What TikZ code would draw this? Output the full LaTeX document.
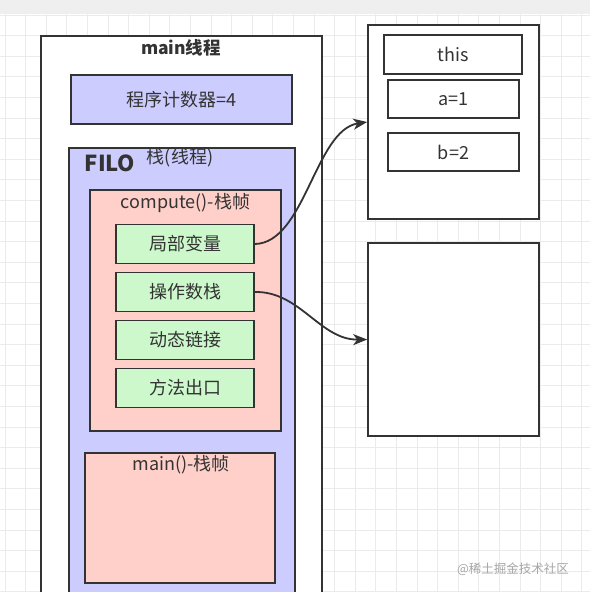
\documentclass[tikz,border=0pt]{standalone}
\usepackage{fontspec}
\setmainfont{Noto Sans CJK SC}
\usetikzlibrary{arrows.meta}
\definecolor{edge}{HTML}{333333}
\definecolor{lav}{HTML}{CCCCFF}
\definecolor{framefill}{HTML}{FFD0CA}
\definecolor{slot}{HTML}{CCF8CC}
\definecolor{gridline}{HTML}{EBEBEB}
\definecolor{band}{HTML}{EFEFEF}

\begin{document}
\begin{tikzpicture}[x=1pt,y=-1pt,line width=1.6pt,
	box/.style={draw=edge,text=edge,inner sep=0pt,font=\fontsize{18}{21}\selectfont},
	txt/.style={text=edge,inner sep=0pt,font=\fontsize{18}{21}\selectfont},
	link/.style={draw=edge,line width=1.8pt,-{Stealth[length=14pt,width=11pt,inset=4pt]}}]
\clip (0,0) rectangle (590,592);

%grid
\fill[white] (0,0) rectangle (590,592);
\foreach \i in {0,...,28}{
	\draw[gridline,line width=0.8pt] ({5+20.6*\i},14)--({5+20.6*\i},592);
	\draw[gridline,line width=0.8pt] (0,{15+20.6*\i})--(590,{15+20.6*\i});
}
\fill[band] (0,0) rectangle (590,14);

%main thread
\node[box,fill=white,anchor=north west,minimum width=281pt,minimum height=600pt] (mainthread) at (40,35) {};
\node[txt,font=\fontsize{17.5}{20}\selectfont\bfseries] (mainlabel) at (181,48) {main线程};

\node[box,fill=lav,minimum width=221pt,minimum height=49pt] (pc) at (181.5,99.5) {程序计数器=4};

%stack
\node[box,fill=lav,anchor=north west,minimum width=226pt,minimum height=470pt] (stack) at (68,147) {};
\node[txt,font=\fontsize{22}{26}\selectfont\bfseries] (filo) at (110,163) {FILO};
\node[txt] (stacklabel) at (180,158) {栈(线程)};

%compute frame
\node[box,fill=framefill,minimum width=191pt,minimum height=241pt] (compute) at (185.5,310.5) {};
\node[txt] (computelabel) at (185.5,203) {compute()-栈帧};
\foreach \name/\y/\t in {local/244/局部变量,opstack/292/操作数栈,dynlink/340/动态链接,retaddr/388/方法出口}{
	\node[box,fill=slot,minimum width=138pt,minimum height=39pt] (\name) at (185,\y) {\t};
}

%main frame
\node[box,fill=framefill,minimum width=190pt,minimum height=130pt] (mainframe) at (180,518) {};
\node[txt] (mainframelabel) at (181,465) {main()-栈帧};

%heap
\node[box,fill=white,minimum width=171pt,minimum height=194pt] (obj) at (453.5,122) {};
\node[box,fill=white,minimum width=138pt,minimum height=39pt] (this) at (453,54.5) {this};
\node[box,fill=white,minimum width=131pt,minimum height=38pt] (avar) at (453.5,99) {a=1};
\node[box,fill=white,minimum width=131pt,minimum height=38pt] (bvar) at (453.5,152) {b=2};

\node[box,fill=white,minimum width=171pt,minimum height=193pt] (heap) at (453.5,339.5) {};

%links
\draw[link] (local.east) .. controls (305,243) and (315,130) .. (obj.west);
\draw[link] (opstack.east) .. controls (300,291) and (320,340) .. (heap.west);

\node[text=black!35,inner sep=0pt,font=\fontsize{12.5}{14}\selectfont] (mark) at (513,569) {@稀土掘金技术社区};
\end{tikzpicture}
\end{document}
